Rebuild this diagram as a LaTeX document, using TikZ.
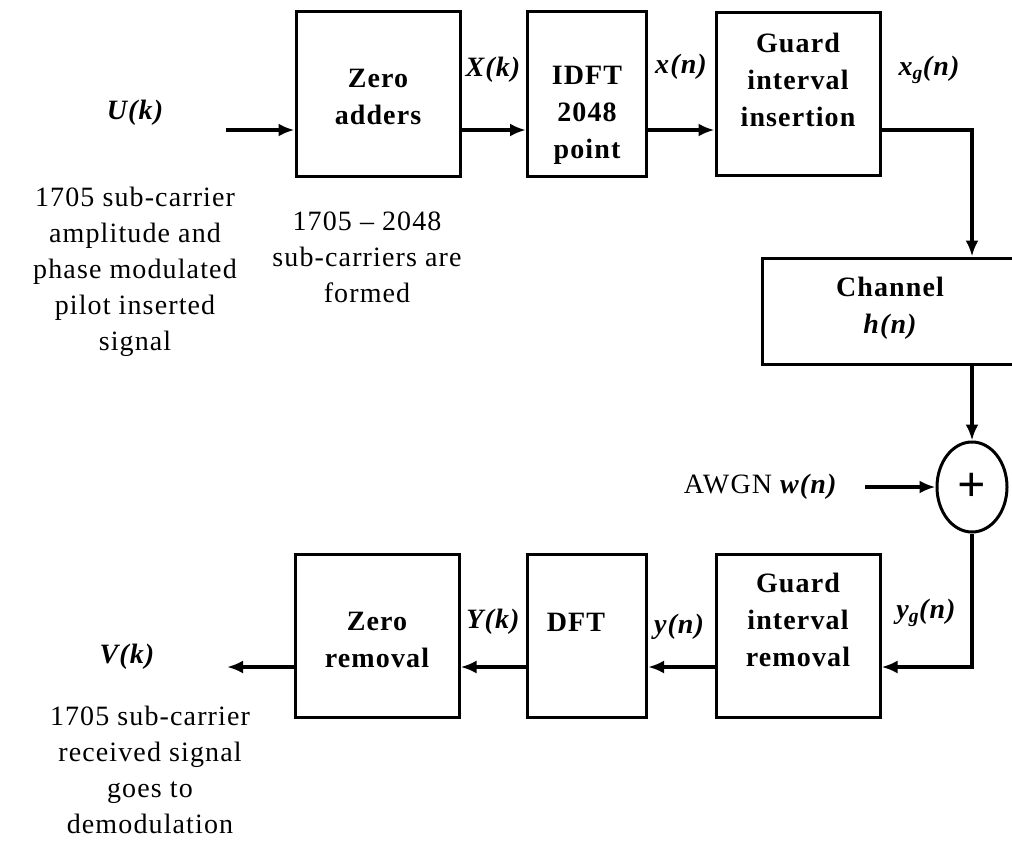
\documentclass[tikz,border=0pt]{standalone}
\usepackage{fontspec}
\setmainfont{Liberation Serif}[LetterSpace=4]
\usetikzlibrary{arrows.meta,shapes.geometric}

\begin{document}
\begin{tikzpicture}[x=1pt,y=-1pt,
    blk/.style={draw,line width=3pt,minimum width=164pt,minimum height=164pt,inner sep=0pt},
    btxt/.style={align=center,font=\fontsize{28}{37}\selectfont\bfseries},
    sig/.style={font=\fontsize{28}{36}\selectfont\bfseries\itshape},
    note/.style={align=center,font=\fontsize{28}{36}\selectfont},
    arr/.style={-{Latex[length=16pt,width=13pt]},line width=4pt}]
  \clip (0,0) rectangle (1012,843);

  % 送信側
  \node[blk] (za) at (378,94) {};
  \node[btxt] (zat) at (378,97) {Zero\\adders};
  \node[blk,minimum width=119pt] (idft) at (587,94) {};
  \node[btxt] (idftt) at (587,115) {IDFT\\2048\\point};
  \node[blk,minimum height=162pt] (gi) at (798,94) {};
  \node[btxt] (git) at (798,80) {Guard\\interval\\insertion};

  % 通信路
  \node[blk,minimum width=256pt,minimum height=106pt] (ch) at (890,311) {};
  \node[btxt,align=center] (cht) at (890,308) {Channel\\{\itshape h(n)}};
  \node[draw,ellipse,line width=3pt,minimum width=70pt,minimum height=90pt,inner sep=0pt,
    font=\fontsize{50}{50}\selectfont\bfseries] (sum) at (972,487) {+};
  \node[note,anchor=east] (awgn) at (840,487) {AWGN {\bfseries\itshape w(n)}};

  % 受信側
  \node[blk,minimum height=163pt] (gr) at (798,636) {};
  \node[btxt] (grt) at (798,620) {Guard\\interval\\removal};
  \node[blk,minimum width=119pt,minimum height=163pt] (dft) at (587,636) {};
  \node[btxt] (dftt) at (576,622) {DFT};
  \node[blk,minimum height=163pt] (zr) at (377,636) {};
  \node[btxt] (zrt) at (377,640) {Zero\\removal};

  % 信号名
  \node[sig] (uk) at (135,113) {U(k)};
  \node[sig] (xk) at (493,70) {X(k)};
  \node[sig] (xn) at (681,67) {x(n)};
  \node[sig] (xgn) at (929,70) {x\textsubscript{g}(n)};
  \node[sig] (yk) at (493,622) {Y(k)};
  \node[sig] (yn) at (679,627) {y(n)};
  \node[sig] (ygn) at (926,613) {y\textsubscript{g}(n)};
  \node[sig] (vk) at (127,657) {V(k)};

  % 説明
  \node[note] (n1) at (135,272) {1705 sub-carrier\\amplitude and\\phase modulated\\pilot inserted\\signal};
  \node[note] (n2) at (367,257) {1705 \textendash{} 2048\\sub-carriers are\\formed};
  \node[note] (n3) at (150,770) {1705 sub-carrier\\received signal\\goes to\\demodulation};

  % 矢印
  \coordinate (uin) at (226,130);
  \coordinate (vout) at (227,667);
  \draw[arr] (uin) -- (uin -| za.west);
  \draw[arr] (za.east |- uin) -- (idft.west |- uin);
  \draw[arr] (idft.east |- uin) -- (gi.west |- uin);
  \draw[arr] (gi.east |- uin) -| (ch.north -| sum);
  \draw[arr] (ch.south -| sum) -- (sum.north);
  \draw[arr] ([xshift=25pt]awgn.east) -- (sum.west);
  \draw[arr] (sum.south) |- (gr.east |- vout);
  \draw[arr] (gr.west |- vout) -- (dft.east |- vout);
  \draw[arr] (dft.west |- vout) -- (zr.east |- vout);
  \draw[arr] (zr.west |- vout) -- (vout);
\end{tikzpicture}
\end{document}
